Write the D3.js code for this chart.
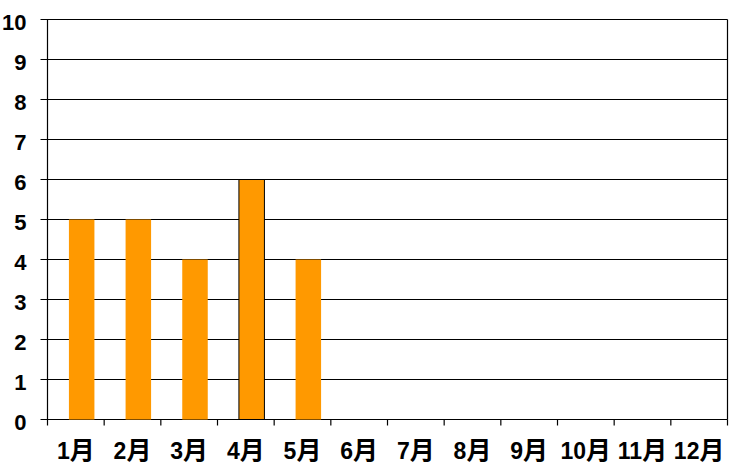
<!DOCTYPE html>
<html>
<head>
<meta charset="utf-8">
<script src="https://cdn.jsdelivr.net/npm/d3@7"></script>
<style>
  body { margin: 0; background: #fff; }
  svg { display: block; }
</style>
</head>
<body>
<div id="chart"></div>
<script>
'use strict';

// data
const months = ['1月', '2月', '3月', '4月', '5月', '6月', '7月', '8月', '9月', '10月', '11月', '12月'];
const counts = [5, 5, 4, 6, 4, null, null, null, null, null, null, null];
const highlighted = ['4月'];
const yTicks = [0, 1, 2, 3, 4, 5, 6, 7, 8, 9, 10];

const settings = {
    width: 737,
    height: 469,
    elId: '#chart'
};

const margin = { top: 19.5, right: 9.5, bottom: 49.5, left: 47.5 };
const innerW = settings.width - margin.left - margin.right;
const innerH = settings.height - margin.top - margin.bottom;

const svg = d3.select(settings.elId)
    .append('svg')
    .attr('width', settings.width)
    .attr('height', settings.height);

const x = d3.scaleBand()
    .domain(months)
    .range([0, innerW]);

const y = d3.scaleLinear()
    .domain([0, 10])
    .range([innerH, 0]);

const g = svg.append('g')
    .attr('transform', `translate(${margin.left},${margin.top})`);

// gridlines
g.append('g')
    .selectAll('line')
    .data(yTicks)
    .join('line')
    .attr('x1', -7)
    .attr('x2', innerW)
    .attr('y1', d => y(d))
    .attr('y2', d => y(d))
    .attr('stroke', '#000')
    .attr('stroke-width', 1.2);

// y labels
g.append('g')
    .selectAll('text')
    .data(yTicks)
    .join('text')
    .attr('x', -21)
    .attr('y', d => y(d) + 2.5)
    .attr('dy', '0.35em')
    .attr('text-anchor', 'end')
    .attr('font-family', '"Liberation Sans Narrow", "Liberation Sans", sans-serif')
    .attr('font-weight', 'bold')
    .attr('font-size', 22)
    .text(d => d);

// bars (sit a little right of the band centre, as in the original)
g.append('g')
    .selectAll('rect')
    .data(months.map((m, i) => ({ m, v: counts[i] })).filter(d => d.v != null))
    .join('rect')
    .attr('x', d => x(d.m) + x.bandwidth() * 0.378)
    .attr('width', x.bandwidth() * 0.45)
    .attr('y', d => y(d.v))
    .attr('height', d => innerH - y(d.v))
    .attr('fill', '#ff9900')
    .attr('stroke', d => highlighted.includes(d.m) ? '#000' : 'none')
    .attr('stroke-width', 1);

// x ticks
g.append('g')
    .selectAll('line')
    .data(months.concat(['end']))
    .join('line')
    .attr('x1', (d, i) => i * x.bandwidth())
    .attr('x2', (d, i) => i * x.bandwidth())
    .attr('y1', innerH)
    .attr('y2', innerH + 6)
    .attr('stroke', '#000')
    .attr('stroke-width', 1.2);

// x labels: number in a narrow face, 月 in the CJK face a bit bigger
const xLabels = g.append('g')
    .selectAll('text')
    .data(months)
    .join('text')
    .attr('x', d => x(d) + x.bandwidth() / 2)
    .attr('y', innerH + 39.5)
    .attr('text-anchor', 'middle')
    .attr('font-weight', 'bold');

xLabels.append('tspan')
    .attr('font-family', '"Liberation Sans Narrow", "Liberation Sans", sans-serif')
    .attr('font-size', 23)
    .text(d => d.replace('月', ''));

xLabels.append('tspan')
    .attr('font-family', '"Noto Sans CJK JP", sans-serif')
    .attr('font-size', 25)
    .text('月');

// axis lines / frame
g.append('line')
    .attr('x1', 0).attr('x2', 0)
    .attr('y1', 0).attr('y2', innerH)
    .attr('stroke', '#000')
    .attr('stroke-width', 1.2);

g.append('line')
    .attr('x1', innerW).attr('x2', innerW)
    .attr('y1', 0).attr('y2', innerH)
    .attr('stroke', '#000')
    .attr('stroke-width', 1.2);
</script>
</body>
</html>
